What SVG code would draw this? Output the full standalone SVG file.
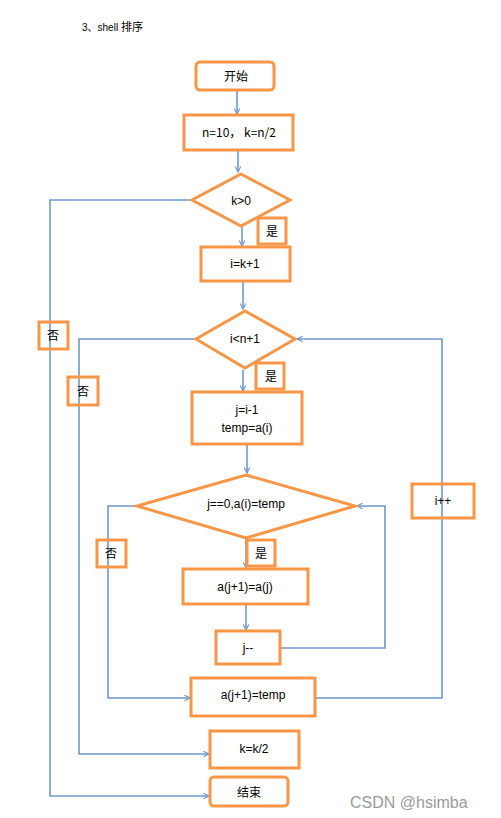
<svg xmlns="http://www.w3.org/2000/svg" width="501" height="818" viewBox="0 0 501 818">
<defs>
<style>
.b{fill:#fff;stroke:#F79646;stroke-width:3}
.o{fill:none;stroke:#F79646;stroke-width:3}
.l{fill:none;stroke:#6E98CE;stroke-width:1.6}
.t{font-family:"Liberation Sans","Noto Sans CJK SC",sans-serif;font-size:12px;fill:#000;text-anchor:middle}
.c{font-family:"Noto Sans CJK SC","Liberation Sans",sans-serif;font-size:12px;fill:#000;text-anchor:middle}
</style>
<marker id="a" viewBox="0 0 10 10" refX="9" refY="5" markerWidth="7" markerHeight="7" orient="auto" markerUnits="userSpaceOnUse">
<path d="M1,1 L9,5 L1,9" fill="none" stroke="#6E98CE" stroke-width="1.6"/>
</marker>
</defs>
<rect width="501" height="818" fill="#fff"/>
<text x="82" y="31" font-family="Liberation Sans,Noto Sans CJK SC,sans-serif" font-size="10" fill="#000">3、shell <tspan font-family="Noto Sans CJK SC,sans-serif" font-size="11">排序</tspan></text>
<g id="connectors">
<path class="l" d="M237,90 V114" marker-end="url(#a)"/>
<path class="l" d="M238,150 V172" marker-end="url(#a)"/>
<path class="l" d="M242,226 V246" marker-end="url(#a)"/>
<path class="l" d="M243,281 V309" marker-end="url(#a)"/>
<path class="l" d="M243,370 V391" marker-end="url(#a)"/>
<path class="l" d="M247,444 V473" marker-end="url(#a)"/>
<path class="l" d="M246,538 V568" marker-end="url(#a)"/>
<path class="l" d="M246,604 V630" marker-end="url(#a)"/>
<path class="l" d="M280,648 H385 V506 H357" marker-end="url(#a)"/>
<path class="l" d="M136,506 H108 V698 H190" marker-end="url(#a)"/>
<path class="l" d="M315,698 H442 V339 H297" marker-end="url(#a)"/>
<path class="l" d="M196,339 H79 V754 H209" marker-end="url(#a)"/>
<path class="l" d="M191,200 H50 V796 H209" marker-end="url(#a)"/>
</g>
<g id="start"><rect class="b" x="196" y="62" width="78" height="28" rx="4"/><text class="c" x="236" y="81">开始</text></g>
<g id="init"><rect class="b" x="184" y="115" width="109" height="35"/><text class="c" x="239" y="137">n=10， k=n/2</text></g>
<g id="d1"><polygon class="b" points="241,174 290,200 241,226 192,200"/><text class="t" x="241" y="205">k&gt;0</text></g>
<g id="yes1"><rect class="b" x="258" y="218" width="28" height="26"/><text class="c" x="272" y="236">是</text></g>
<g id="ik"><rect class="b" x="201" y="247" width="89" height="34"/><text class="t" x="245" y="268">i=k+1</text></g>
<g id="d2"><polygon class="b" points="245,311 295,339 245,368 196,339"/><text class="t" x="245" y="343">i&lt;n+1</text></g>
<g id="yes2"><rect class="b" x="256" y="363" width="28" height="26"/><text class="c" x="271" y="381">是</text></g>
<g id="jt"><rect class="b" x="192" y="392" width="110" height="52"/><text class="t" x="247" y="414">j=i-1</text><text class="t" x="247" y="432">temp=a(i)</text></g>
<g id="d3"><polygon class="b" points="246,475 355,506 246,538 137,506"/><text class="t" x="246" y="508">j==0,a(i)=temp</text></g>
<g id="yes3"><rect class="b" x="247" y="540" width="28" height="26"/><text class="c" x="261" y="558">是</text></g>
<g id="aj"><rect class="b" x="183" y="569" width="125" height="35"/><text class="t" x="245" y="591">a(j+1)=a(j)</text></g>
<g id="jm"><rect class="b" x="216" y="631" width="64" height="33"/><text class="t" x="248" y="652">j--</text></g>
<g id="no3"><rect class="o" x="97" y="540" width="29" height="27"/><text class="c" x="111" y="558">否</text></g>
<g id="at"><rect class="b" x="191" y="678" width="124" height="38"/><text class="t" x="253" y="699">a(j+1)=temp</text></g>
<g id="ipp"><rect class="o" x="412" y="484" width="62" height="34"/><text class="t" x="443" y="505">i++</text></g>
<g id="no2"><rect class="o" x="68" y="377" width="30" height="28"/><text class="c" x="83" y="396">否</text></g>
<g id="no1"><rect class="o" x="39" y="322" width="29" height="27"/><text class="c" x="53" y="340">否</text></g>
<g id="kk"><rect class="b" x="210" y="731" width="89" height="37"/><text class="t" x="254" y="753">k=k/2</text></g>
<g id="end"><rect class="b" x="210" y="777" width="78" height="29" rx="4"/><text class="c" x="249" y="797">结束</text></g>
<text x="350" y="808" font-family="Liberation Sans,sans-serif" font-size="16" fill="#9a9a9a">CSDN @hsimba</text>
</svg>
